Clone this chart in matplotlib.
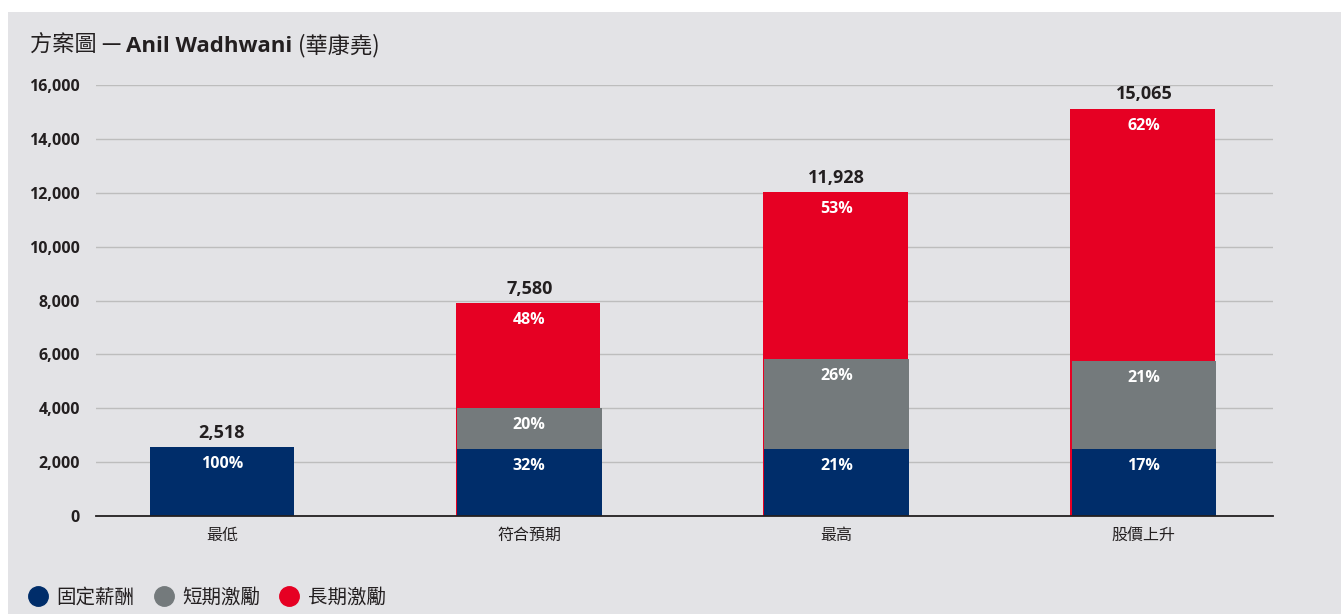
import matplotlib
matplotlib.use("Agg")
import matplotlib.pyplot as plt
from matplotlib.lines import Line2D
from matplotlib.patches import Rectangle
import numpy as np

CJK = ["Noto Sans CJK TC", "DejaVu Sans"]
LAT = ["Open Sans", "Noto Sans CJK TC", "DejaVu Sans"]
plt.rcParams["font.family"] = CJK

categories = ["最低", "符合預期", "最高", "股價上升"]
fixed_pay  = [2550, 2490, 2490, 2490]
short_term = [0, 1520, 3340, 3270]
long_term  = [0, 3890, 6190, 9370]
total_labels = ["2,518", "7,580", "11,928", "15,065"]
pct_fixed = ["100%", "32%", "21%", "17%"]
pct_short = ["", "20%", "26%", "21%"]
pct_long  = ["", "48%", "53%", "62%"]
series_names = ["固定薪酬", "短期激勵", "長期激勵"]

NAVY, GREY, RED = "#002d6a", "#747a7c", "#e60023"
BG = "#e3e3e6"
DARK = "#231f20"

fig = plt.figure(figsize=(13.41, 6.14), dpi=100)
fig.patch.set_facecolor("white")
fig.patches.append(Rectangle((8 / 1341, 0), 1, 1 - 12 / 614, transform=fig.transFigure,
                             facecolor=BG, edgecolor="none", zorder=-10))

ax = fig.add_axes([96 / 1341, 1 - 515.7 / 614, (1273 - 96) / 1341, (515.7 - 85.3) / 614])
ax.patch.set_alpha(0)

x = np.arange(len(categories))
w = 0.47
fixed = np.array(fixed_pay)
short = np.array(short_term)
long_ = np.array(long_term)
tops = fixed + short + long_

# long-term bar sits behind (slightly offset, shows a thin red edge)
has_long = long_ > 0
ax.bar(x[has_long] - 0.004, tops[has_long], w, color=RED, zorder=2)
ax.bar(x, fixed, w, color=NAVY, zorder=3)
ax.bar(x, short, w, bottom=fixed, color=GREY, zorder=3)

def seg_label(txt, xv, yv):
    ax.annotate(txt, (xv, yv), xytext=(0, -12.3), textcoords="offset points",
                ha="center", va="center", color="white", fontsize=11.5,
                fontweight="bold", family=LAT, zorder=5)

for i in range(len(x)):
    seg_label(pct_fixed[i], x[i], fixed[i])
    if pct_short[i]:
        seg_label(pct_short[i], x[i], fixed[i] + short[i])
    if pct_long[i]:
        seg_label(pct_long[i], x[i], tops[i])
    ax.annotate(total_labels[i], (x[i], tops[i]), xytext=(0, 10.5), textcoords="offset points",
                ha="center", va="center", color=DARK, fontsize=13, fontweight="bold",
                family=LAT, zorder=5)

ax.set_xlim(-0.41, 3.42)
ax.set_ylim(0, 16000)
ax.set_yticks(np.arange(0, 16001, 2000))
ax.set_yticklabels([f"{v:,}" for v in range(0, 16001, 2000)], fontsize=11.5,
                   fontweight="bold", color=DARK, family=LAT)
ax.set_xticks(x)
ax.set_xticklabels(categories, fontsize=11.5, color=DARK, fontweight="medium")
ax.tick_params(axis="both", length=0)
ax.tick_params(axis="y", pad=11.5)
ax.tick_params(axis="x", pad=8)
ax.grid(axis="y", color="#bdbdbd", linewidth=1.0, zorder=0)
ax.set_axisbelow(True)
for s in ["top", "right", "left"]:
    ax.spines[s].set_visible(False)
ax.spines["bottom"].set_color(DARK)
ax.spines["bottom"].set_linewidth(1.3)
ax.spines["bottom"].set_zorder(6)

# title in three runs
base_y = 1 - 52 / 614
t1 = fig.text(30 / 1341, base_y, "方案圖 — ", fontsize=16, color=DARK, va="baseline",
              fontweight="medium")
t2 = fig.text(0, 0, "Anil Wadhwani", fontsize=16, fontweight="bold", color=DARK, family=LAT)
t3 = fig.text(0, 0, " (華康堯)", fontsize=16, color=DARK, fontweight="medium")
fig.canvas.draw()
r = fig.canvas.get_renderer()
bb = t1.get_window_extent(r).transformed(fig.transFigure.inverted())
t2.set_position((bb.x1, base_y)); t2.set_va("baseline")
fig.canvas.draw()
bb = t2.get_window_extent(r).transformed(fig.transFigure.inverted())
t3.set_position((bb.x1, base_y)); t3.set_va("baseline")

handles = [Line2D([], [], marker="o", linestyle="none", markersize=14, color=c)
           for c in (NAVY, GREY, RED)]
fig.legend(handles, series_names, loc="center left", bbox_to_anchor=(9 / 1341, 1 - 597 / 614),
           ncol=3, frameon=False, fontsize=14, handletextpad=0.35, columnspacing=0.9,
           labelcolor=DARK, handlelength=1.2, prop={"weight": "medium", "size": 14})

fig.savefig("out.png", dpi=100, facecolor=fig.get_facecolor())
